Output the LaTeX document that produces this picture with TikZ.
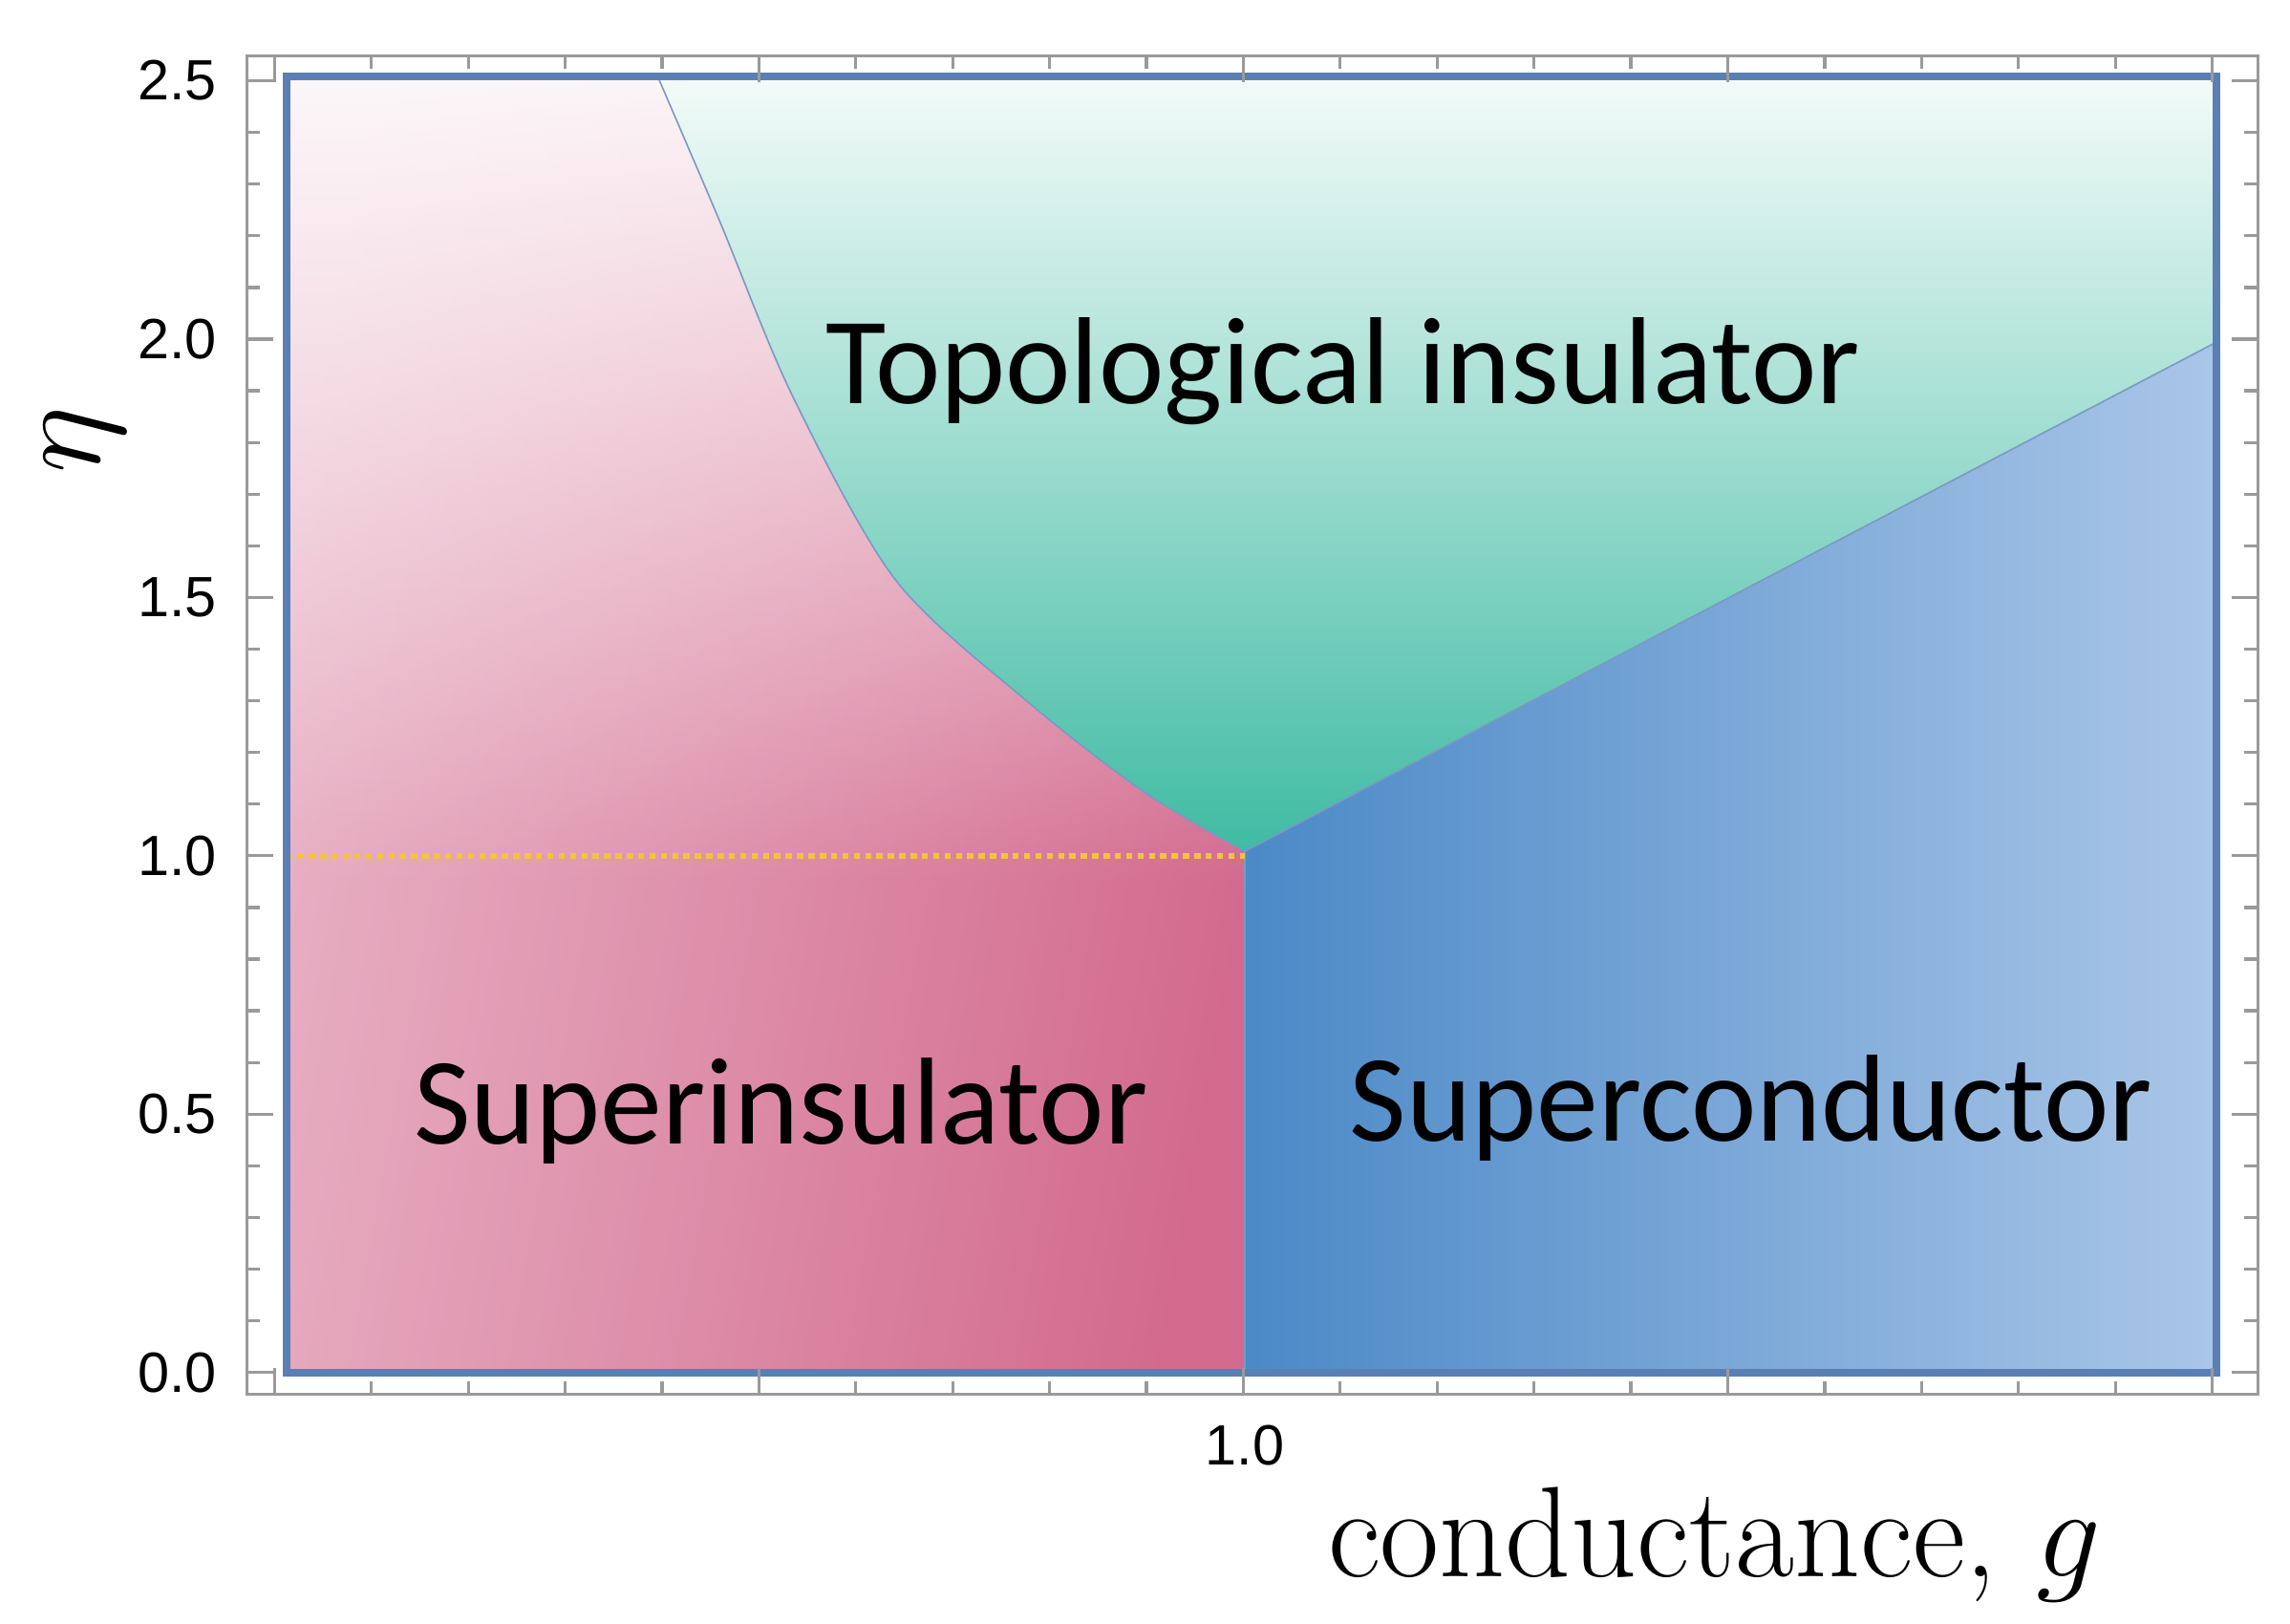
\documentclass[tikz,border=0pt]{standalone}
\usepackage{fontspec}
\newfontfamily\carl{Carlito}
\newfontfamily\lib{Liberation Sans}
\usetikzlibrary{fadings}
\definecolor{pinkL}{HTML}{E8B2C5}
\definecolor{pinkD}{HTML}{D36A8E}
\definecolor{grn}{HTML}{40BBA3}
\definecolor{grnL}{HTML}{F4FBF9}
\definecolor{bluD}{HTML}{4B89C7}
\definecolor{bluL}{HTML}{AAC6E8}
\definecolor{frame}{HTML}{5A7FB5}
\definecolor{axgray}{HTML}{9A9A9A}
\definecolor{dotyel}{HTML}{F3C43A}
\tikzset{regtext/.style={font=\carl\fontsize{24}{28}\selectfont},
 ticklab/.style={font=\lib\fontsize{11}{13}\selectfont},
 bnd/.style={draw=frame!80,line width=0.3pt}}
\begin{document}
\begin{tikzpicture}[x=0.1mm,y=-0.1mm]
\useasboundingbox (0,0) rectangle (1560,1106);
\fill[white] (0,0) rectangle (1560,1106);
% pink
\def\pinkpath{(195,935) -- (848,935) -- (848,580) -- plot[smooth] coordinates {(848,580) (780,540) (700,478) (610,395) (540,270) (490,150) (448,52)} -- (195,52) -- cycle}
\shade[left color=pinkL, middle color=pinkD, right color=pinkD, shading angle=80] \pinkpath;
\begin{scope}
\clip \pinkpath;
\fill[white, path fading=south, opacity=0.9] (195,52) rectangle (848,600);
\end{scope}
% green
\shade[top color=grnL, middle color=grn, bottom color=grn] (448,52) -- plot[smooth] coordinates {(448,52) (490,150) (540,270) (610,395) (700,478) (780,540) (848,580)} -- (1510,233) -- (1510,52) -- cycle;
% blue
\shade[left color=bluD, right color=bluL] (848,935) -- (848,580) -- (1510,233) -- (1510,935) -- cycle;
\draw[bnd] plot[smooth] coordinates {(448,52) (490,150) (540,270) (610,395) (700,478) (780,540) (848,580)};
\draw[bnd] (848,580) -- (1510,233);
\draw[bnd] (848,580) -- (848,935);
\draw[dotyel, densely dotted, line width=1.2pt] (195,583) -- (848,583);
\draw[frame, line width=1.5pt] (195,52) rectangle (1510,935);
% axes frame
\draw[axgray, line width=0.6pt] (168,38) rectangle (1538,950);
\foreach \k in {0,...,20}{
  \pgfmathsetmacro\xx{187+66*\k}
  \pgfmathsetmacro\len{(mod(\k,5)==0)?18:9}
  \draw[axgray, line width=0.6pt] (\xx,950) -- ++(0,-\len);
  \draw[axgray, line width=0.6pt] (\xx,38) -- ++(0,\len);
}
\foreach \k in {0,...,25}{
  \pgfmathsetmacro\yy{935-35.2*\k}
  \pgfmathsetmacro\len{(mod(\k,5)==0)?18:9}
  \draw[axgray, line width=0.6pt] (168,\yy) -- ++(\len,0);
  \draw[axgray, line width=0.6pt] (1538,\yy) -- ++(-\len,0);
}
\foreach \v/\t in {0/0.0,5/0.5,10/1.0,15/1.5,20/2.0,25/2.5}{
  \node[ticklab, anchor=east] (yl\v) at (160,935-35.2*\v) {\t};
}
\node[ticklab] (xl) at (848,985) {1.0};
\node[regtext] (ti) at (915,253) {Topological insulator};
\node[regtext] (si) at (532,757) {Superinsulator};
\node[regtext] (sc) at (1193,755) {Superconductor};
\node[rotate=90, font=\fontsize{30}{34}\selectfont] (eta) at (58,300) {$\eta$};
\node[font=\fontsize{25}{28}\selectfont] (gl) at (1168,1052) {conductance, $g$};
\end{tikzpicture}
\end{document}
